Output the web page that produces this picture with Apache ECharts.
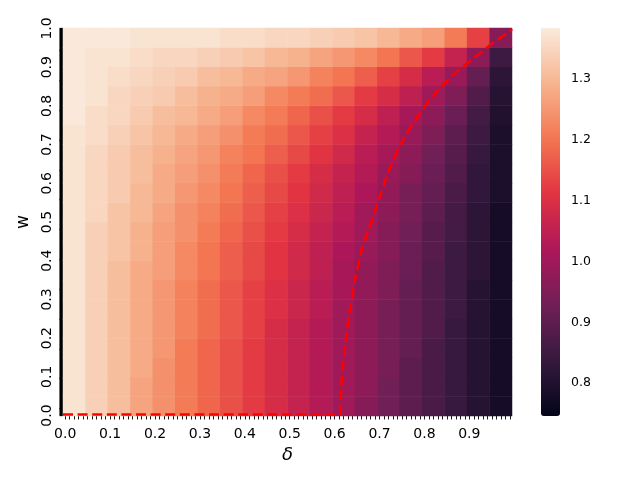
<!DOCTYPE html>
<html><head><meta charset="utf-8">
<script src="https://cdn.jsdelivr.net/npm/echarts@6/dist/echarts.min.js"></script>
<style>html,body{margin:0;padding:0;background:#fff}#c{width:640px;height:480px}</style>
</head><body><div id="c"></div>
<script>
// tick labels
const xTickLabels = ['0.0','0.1','0.2','0.3','0.4','0.5','0.6','0.7','0.8','0.9'];
const yTickLabels = ['0.0','0.1','0.2','0.3','0.4','0.5','0.6','0.7','0.8','0.9','1.0'];
const colorbarTicks = [0.8, 0.9, 1.0, 1.1, 1.2, 1.3];
const colorMin = 0.746, colorMax = 1.384;

// cell centres of the read-off grid
const deltaCells = [0.025,0.075,0.125,0.175,0.225,0.275,0.325,0.375,0.425,0.475,0.525,0.575,0.625,0.675,0.725,0.775,0.825,0.875,0.925,0.975];
const wCells     = [0.025,0.075,0.125,0.175,0.225,0.275,0.325,0.375,0.425,0.475,0.525,0.575,0.625,0.675,0.725,0.775,0.825,0.875,0.925,0.975];

// values, one row per w (bottom to top), left to right in delta
const row00 = [1.37,1.34,1.31,1.27,1.24,1.21,1.18,1.15,1.12,1.09,1.06,1.03,1.00,0.96,0.93,0.90,0.87,0.84,0.81,0.78];
const row01 = [1.37,1.34,1.31,1.27,1.24,1.21,1.18,1.15,1.12,1.09,1.06,1.03,1.00,0.97,0.93,0.90,0.87,0.84,0.81,0.78];
const row02 = [1.37,1.34,1.31,1.28,1.24,1.21,1.18,1.15,1.12,1.09,1.06,1.03,1.00,0.97,0.94,0.90,0.87,0.84,0.81,0.78];
const row03 = [1.37,1.34,1.31,1.28,1.25,1.21,1.18,1.15,1.12,1.09,1.06,1.03,1.00,0.97,0.94,0.91,0.87,0.84,0.81,0.78];
const row04 = [1.37,1.34,1.31,1.28,1.25,1.22,1.19,1.16,1.13,1.09,1.06,1.03,1.00,0.97,0.94,0.91,0.88,0.84,0.81,0.78];
const row05 = [1.37,1.34,1.31,1.28,1.25,1.22,1.19,1.16,1.13,1.10,1.07,1.04,1.00,0.97,0.94,0.91,0.88,0.85,0.81,0.78];
const row06 = [1.37,1.34,1.31,1.28,1.25,1.22,1.19,1.16,1.13,1.10,1.07,1.04,1.01,0.98,0.95,0.91,0.88,0.85,0.81,0.78];
const row07 = [1.37,1.34,1.31,1.28,1.26,1.23,1.20,1.17,1.14,1.11,1.08,1.05,1.01,0.98,0.95,0.92,0.88,0.85,0.82,0.78];
const row08 = [1.37,1.34,1.32,1.29,1.26,1.23,1.20,1.17,1.14,1.11,1.08,1.05,1.02,0.99,0.96,0.92,0.89,0.85,0.82,0.78];
const row09 = [1.37,1.34,1.32,1.29,1.26,1.24,1.21,1.18,1.15,1.12,1.09,1.06,1.03,1.00,0.96,0.93,0.89,0.86,0.82,0.78];
const row10 = [1.37,1.35,1.32,1.30,1.27,1.24,1.22,1.19,1.16,1.13,1.10,1.07,1.04,1.00,0.97,0.94,0.90,0.86,0.82,0.78];
const row11 = [1.37,1.35,1.33,1.30,1.28,1.25,1.23,1.20,1.17,1.14,1.11,1.08,1.05,1.02,0.98,0.94,0.91,0.87,0.83,0.79];
const row12 = [1.37,1.35,1.33,1.31,1.28,1.26,1.24,1.21,1.18,1.15,1.12,1.09,1.06,1.03,0.99,0.96,0.92,0.88,0.83,0.79];
const row13 = [1.37,1.35,1.33,1.31,1.29,1.27,1.25,1.22,1.20,1.17,1.14,1.11,1.08,1.04,1.01,0.97,0.93,0.89,0.84,0.79];
const row14 = [1.37,1.36,1.34,1.32,1.30,1.28,1.26,1.24,1.21,1.19,1.16,1.13,1.10,1.06,1.03,0.99,0.95,0.90,0.85,0.79];
const row15 = [1.38,1.36,1.35,1.33,1.31,1.30,1.28,1.26,1.23,1.21,1.18,1.15,1.12,1.09,1.05,1.01,0.97,0.92,0.86,0.80];
const row16 = [1.38,1.37,1.35,1.34,1.33,1.31,1.29,1.28,1.26,1.23,1.21,1.19,1.16,1.12,1.09,1.05,1.00,0.95,0.88,0.81];
const row17 = [1.38,1.37,1.36,1.35,1.34,1.33,1.31,1.30,1.28,1.27,1.25,1.22,1.20,1.17,1.13,1.09,1.04,0.99,0.91,0.82];
const row18 = [1.38,1.37,1.37,1.36,1.35,1.35,1.34,1.33,1.32,1.30,1.29,1.27,1.25,1.23,1.20,1.16,1.12,1.06,0.97,0.85];
const row19 = [1.38,1.38,1.38,1.37,1.37,1.37,1.37,1.36,1.36,1.35,1.35,1.34,1.33,1.32,1.30,1.28,1.26,1.21,1.13,0.96];

// red dashed boundary curve (fraction of plot width / height)
const lineDelta = [0.000,0.618,0.619,0.621,0.625,0.632,0.640,0.651,0.666,0.685,0.703,0.721,0.739,0.762,0.788,0.817,0.847,0.884,0.921,0.958,0.996,1.000];
const lineW     = [0.004,0.004,0.050,0.100,0.142,0.219,0.279,0.356,0.434,0.494,0.556,0.619,0.670,0.722,0.769,0.816,0.855,0.894,0.928,0.962,0.992,0.997];

const rows = [row00,row01,row02,row03,row04,row05,row06,row07,row08,row09,row10,row11,row12,row13,row14,row15,row16,row17,row18,row19];
// rocket colormap sampled at 0, 1/7, 2/7 ... 1
const rocket = ['#03051A','#35193E','#701F57','#AD1759','#E13342','#F37651','#F6B48F','#FAEBDD'];

// fine categories for the tick combs (100 delta columns, 401 w rows)
const xCats = [];
for (let i = 0; i < 100; i++) xCats.push(i % 10 === 0 ? xTickLabels[i / 10] : '');
const yCats = [];
for (let j = 0; j <= 400; j++) yCats.push(j % 40 === 0 ? yTickLabels[j / 40] : '');

const cellData = [];
rows.forEach((r, j) => r.forEach((v, i) => cellData.push([i, j, v])));
const lineData = lineDelta.map((d, k) => [d, lineW[k]]);

const FONT = 'DejaVu Sans';
const G = {left: 63, top: 28, width: 449, height: 388};
const chart = echarts.init(document.getElementById('c'), null, {renderer: 'canvas'});
chart.setOption({
  animation: false,
  backgroundColor: '#ffffff',
  grid: [
    Object.assign({}, G),
    Object.assign({}, G),
    Object.assign({}, G),
    {left: 541, top: 28, width: 19, height: 388}
  ],
  xAxis: [
    {gridIndex: 0, type: 'category', data: xCats, boundaryGap: true,
     axisLine: {show: false},
     axisTick: {show: true, interval: 0, alignWithLabel: true, length: 3.5, lineStyle: {color: '#000', width: 0.9}},
     axisLabel: {interval: 9, color: '#000', fontSize: 14, fontFamily: FONT, margin: 11},
     name: 'δ', nameLocation: 'middle', nameGap: 21,
     nameTextStyle: {fontSize: 18, fontStyle: 'italic', fontFamily: FONT, color: '#000'}},
    {gridIndex: 1, type: 'category', data: deltaCells, show: false},
    {gridIndex: 2, type: 'value', min: 0, max: 1, show: false},
    {gridIndex: 3, type: 'value', min: 0, max: 1, show: false}
  ],
  yAxis: [
    {gridIndex: 0, type: 'category', data: yCats, boundaryGap: true,
     axisLine: {show: false},
     axisTick: {show: true, interval: 0, alignWithLabel: true, length: 3.5, lineStyle: {color: '#000', width: 1.3}},
     axisLabel: {interval: 39, rotate: 90, color: '#000', fontSize: 14, fontFamily: FONT, margin: 9},
     name: 'w', nameLocation: 'middle', nameGap: 30, nameRotate: 90,
     nameTextStyle: {fontSize: 17, fontFamily: FONT, color: '#000'}},
    {gridIndex: 1, type: 'category', data: wCells, show: false},
    {gridIndex: 2, type: 'value', min: 0, max: 1, show: false},
    {gridIndex: 3, type: 'value', position: 'right', min: colorMin, max: colorMax,
     axisLine: {show: false}, splitLine: {show: false},
     axisTick: {show: true, length: 3.5, customValues: colorbarTicks, lineStyle: {color: '#000', width: 0.8}},
     axisLabel: {customValues: colorbarTicks, formatter: v => Number(v).toFixed(1), color: '#000', fontSize: 12.5, fontFamily: FONT, margin: 11}}
  ],
  visualMap: {
    type: 'continuous', seriesIndex: 0, min: colorMin, max: colorMax,
    left: 541, top: 28, itemWidth: 19, itemHeight: 388, padding: 0,
    calculable: false, hoverLink: false, text: null, showLabel: false,
    inRange: {color: rocket}
  },
  series: [
    {type: 'heatmap', xAxisIndex: 1, yAxisIndex: 1, data: cellData, progressive: 0,
     itemStyle: {borderWidth: 0}, emphasis: {disabled: true}},
    {type: 'line', xAxisIndex: 2, yAxisIndex: 2, data: lineData, showSymbol: false, clip: false,
     lineStyle: {color: '#ff0000', width: 2.6, type: [10, 4.6]}, z: 5, silent: true}
  ]
});
</script>
</body></html>
